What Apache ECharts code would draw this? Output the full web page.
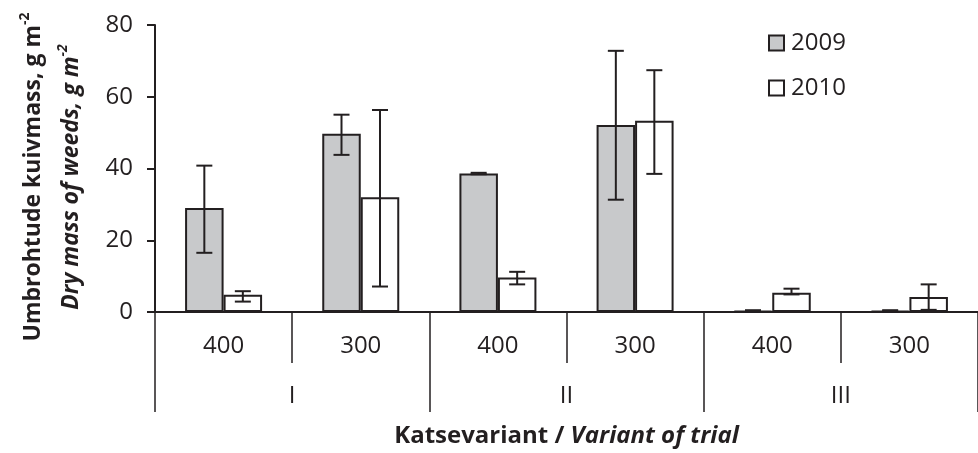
<!DOCTYPE html>
<html><head><meta charset="utf-8">
<script src="https://cdn.jsdelivr.net/npm/echarts@6/dist/echarts.min.js"></script>
<style>html,body{margin:0;padding:0;background:#fff}#c{width:978px;height:453px}</style>
</head><body><div id="c"></div>
<script>
var categories = ['400','300','400','300','400','300'];
var groups = ['I','II','III'];
var yTicks = [0,20,40,60,80];
var v2009 = [29.0, 49.7, 38.6, 52.1, 0.3, 0.3];
var lo2009 = [16.5, 43.8, 38.4, 31.3, 0.2, 0.2];
var hi2009 = [40.8, 55.0, 38.8, 72.8, 0.5, 0.5];
var v2010 = [4.8, 32.0, 9.6, 53.3, 5.4, 4.2];
var lo2010 = [2.9, 7.1, 7.7, 38.5, 4.9, 0.6];
var hi2010 = [5.8, 56.3, 11.2, 67.4, 6.5, 7.7];

var INK = '#231f20';
var FONT = 'Open Sans';
var BAR_W = 38.5;

function errSeries(lo, hi, side) {
  var data = lo.map(function (l, i) { return [i, l, hi[i]]; });
  return {
    type: 'custom', xAxisIndex: 0, yAxisIndex: 0, z: 5,
    data: data,
    renderItem: function (params, api) {
      var i = api.value(0);
      var pLo = api.coord([i, api.value(1)]);
      var pHi = api.coord([i, api.value(2)]);
      var x = pLo[0] + side * BAR_W / 2;
      var cw = 8;
      var st = { stroke: INK, lineWidth: 2 };
      return { type: 'group', children: [
        { type: 'line', shape: { x1: x, y1: pLo[1], x2: x, y2: pHi[1] }, style: st },
        { type: 'line', shape: { x1: x - cw, y1: pLo[1], x2: x + cw, y2: pLo[1] }, style: st },
        { type: 'line', shape: { x1: x - cw, y1: pHi[1], x2: x + cw, y2: pHi[1] }, style: st }
      ]};
    }
  };
}

var chart = echarts.init(document.getElementById('c'), null, { renderer: 'canvas' });
chart.setOption({
  animation: false,
  backgroundColor: '#fff',
  textStyle: { fontFamily: FONT },
  grid: { left: 155, top: 25, width: 825, height: 288 },
  legend: {
    orient: 'vertical', left: 768, top: 31, itemGap: 21, padding: 0,
    itemWidth: 15, itemHeight: 15,
    textStyle: { fontSize: 24, color: INK, fontFamily: FONT, padding: [0, 0, 0, 2] },
    data: [
      { name: '2009', icon: 'rect', itemStyle: { color: '#c8c9cb', borderColor: INK, borderWidth: 2 } },
      { name: '2010', icon: 'rect', itemStyle: { color: '#ffffff', borderColor: INK, borderWidth: 2 } }
    ]
  },
  xAxis: [
    {
      type: 'category', data: categories, position: 'bottom',
      axisLine: { show: true, lineStyle: { color: INK, width: 2 } },
      axisTick: { show: true, length: 51, alignWithLabel: false, lineStyle: { color: INK, width: 1.5 } },
      axisLabel: { fontSize: 24, color: INK, margin: 22, fontFamily: FONT },
      splitLine: { show: false }
    },
    {
      type: 'category', data: groups, position: 'bottom', gridIndex: 0,
      axisLine: { show: false },
      axisTick: { show: true, length: 100, alignWithLabel: false, lineStyle: { color: INK, width: 1.5 } },
      axisLabel: { fontSize: 24, color: INK, margin: 72, fontFamily: FONT },
      name: '{b|Katsevariant / }{bi|Variant of trial}',
      nameLocation: 'middle', nameGap: 112,
      nameTextStyle: { rich: {
        b: { fontSize: 24, fontWeight: 'bold', color: INK, fontFamily: FONT },
        bi: { fontSize: 24, fontWeight: 'bold', fontStyle: 'italic', color: INK, fontFamily: FONT }
      } }
    }
  ],
  yAxis: {
    type: 'value', min: yTicks[0], max: yTicks[yTicks.length - 1], interval: 20,
    axisLine: { show: true, lineStyle: { color: INK, width: 2 } },
    axisTick: { show: true, inside: false, length: 8, lineStyle: { color: INK, width: 2 } },
    axisLabel: { fontSize: 24, color: INK, margin: 22, fontFamily: FONT },
    splitLine: { show: false }
  },
  graphic: [
    {
      type: 'text', rotation: Math.PI / 2, x: 33, y: 177,
      style: {
        text: '{t|Umbrohtude kuivmass, g m}{s|-2}', align: 'center', verticalAlign: 'middle',
        rich: {
          t: { fontSize: 23, fontWeight: 'bold', fill: INK, fontFamily: FONT },
          s: { fontSize: 14, fontWeight: 'bold', fill: INK, fontFamily: FONT, padding: [0, 0, 15, 0] }
        }
      }
    },
    {
      type: 'text', rotation: Math.PI / 2, x: 71, y: 177,
      style: {
        text: '{t|Dry mass of weeds, g m}{s|-2}', align: 'center', verticalAlign: 'middle',
        rich: {
          t: { fontSize: 23, fontWeight: 'bold', fontStyle: 'italic', fill: INK, fontFamily: FONT },
          s: { fontSize: 14, fontWeight: 'bold', fontStyle: 'italic', fill: INK, fontFamily: FONT, padding: [0, 0, 15, 0] }
        }
      }
    }
  ],
  series: [
    { name: '2009', type: 'bar', data: v2009, barWidth: BAR_W, barGap: '0%',
      itemStyle: { color: '#c8c9cb', borderColor: INK, borderWidth: 2 } },
    { name: '2010', type: 'bar', data: v2010, barWidth: BAR_W, barGap: '0%',
      itemStyle: { color: '#ffffff', borderColor: INK, borderWidth: 2 } },
    errSeries(lo2009, hi2009, -1),
    errSeries(lo2010, hi2010, 1)
  ]
});
</script></body></html>
